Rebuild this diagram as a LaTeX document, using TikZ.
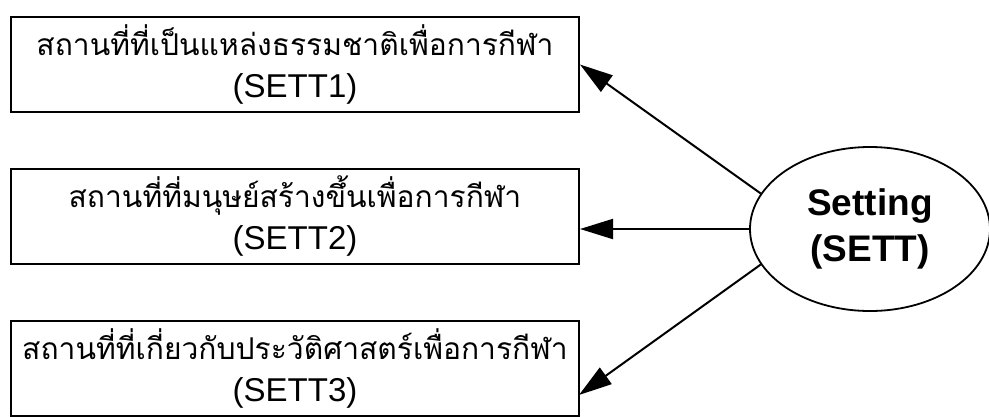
\documentclass[tikz,border=0pt]{standalone}
\usepackage{fontspec}
\setmainfont{Liberation Sans}
\newfontfamily\thaifont[Script=Thai]{Loma}
\usetikzlibrary{shapes.geometric,arrows.meta}
\newcommand{\thline}[1]{{\thaifont\fontsize{30}{42}\selectfont #1}}
\newcommand{\lowstrut}{\rule[-5pt]{0pt}{0pt}}
\begin{document}
\begin{tikzpicture}[x=1pt,y=-1pt,
  obsbox/.style={draw,line width=2pt,minimum width=568pt,minimum height=95pt,inner sep=0pt,align=center,font=\fontsize{33}{42}\selectfont},
  latent/.style={draw,ellipse,line width=1.8pt,minimum width=240pt,minimum height=164pt,inner sep=0pt,align=center,font=\fontsize{37}{46}\selectfont\bfseries},
  link/.style={line width=2pt,-{Triangle[length=33pt,width=20pt]}}]
\useasboundingbox (0,0) rectangle (989,416);
\node[obsbox] (b1) at (295,64.5) {\thline{สถานที่ที่เป็นแหล่งธรรมชาติเพื่อการกีฬา}\\(SETT1)\lowstrut};
\node[obsbox] (b2) at (295,216) {\thline{สถานที่ที่มนุษย์สร้างขึ้นเพื่อการกีฬา}\\(SETT2)\lowstrut};
\node[obsbox] (b3) at (295,368.5) {\thline{สถานที่ที่เกี่ยวกับประวัติศาสตร์เพื่อการกีฬา}\\(SETT3)\lowstrut};
\node[latent] (e) at (870,229) {Setting\\(SETT)};
\coordinate (t3) at (579,395);
\draw[link] (e.162) -- (b1.east);
\draw[link] (e.west) -- (e.west -| b2.east);
\draw[link] (e.198) -- (t3);
\end{tikzpicture}
\end{document}
